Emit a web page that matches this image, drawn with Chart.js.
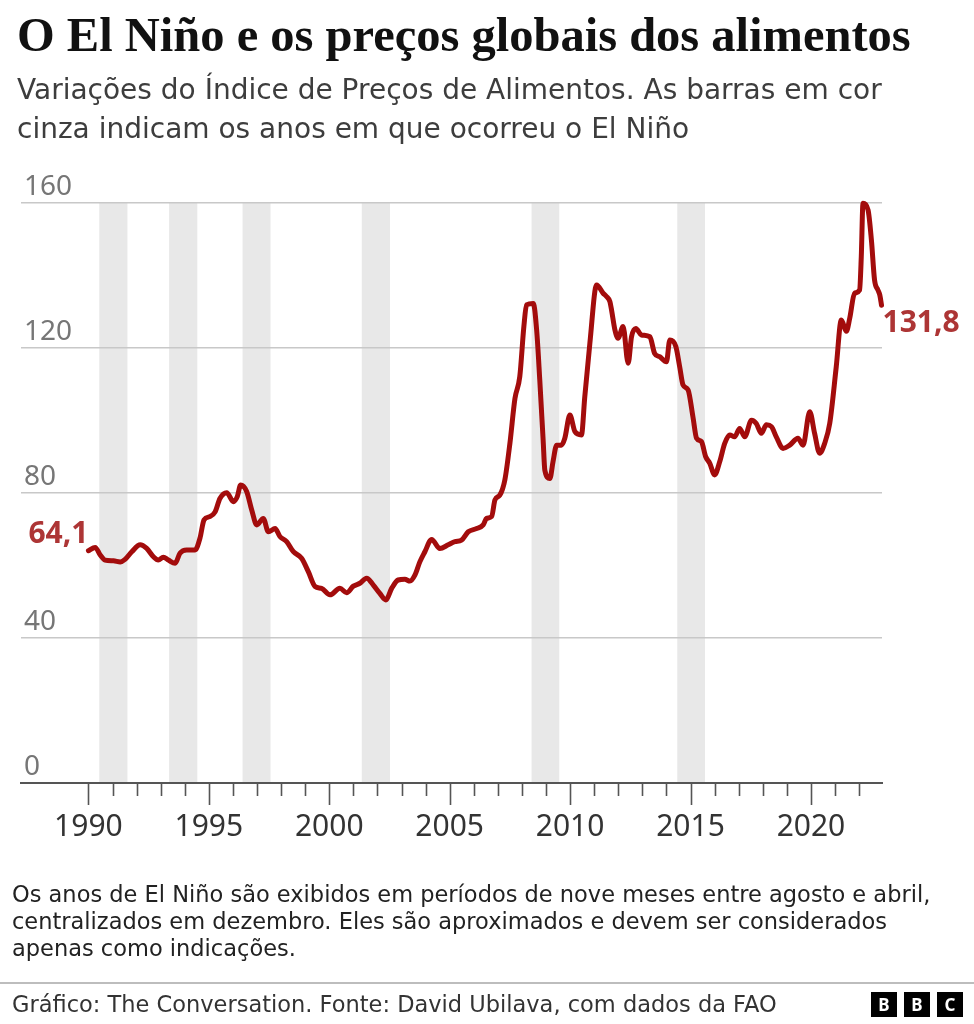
<!DOCTYPE html>
<html>
<head>
<meta charset="utf-8">
<script src="https://cdn.jsdelivr.net/npm/chart.js@4.4.0/dist/chart.umd.min.js"></script>
<style>
html, body { margin: 0; padding: 0; background: #fff; }
body { width: 974px; height: 1024px; position: relative; overflow: hidden; font-family: 'DejaVu Sans', sans-serif; }
#wrap { position: absolute; left: 0; top: 0; width: 974px; height: 1024px; }
.t { position: absolute; white-space: nowrap; }
#title { left: 17px; top: 9px; font: bold 48.5px/52px 'Liberation Serif', serif; color: #111; }
#subtitle { left: 17px; top: 70px; font-size: 28px; line-height: 39px; color: #3d3d3d; }
#note { left: 12px; top: 881px; font-size: 22.5px; line-height: 27px; color: #222; }
#rule { position: absolute; left: 0; top: 982px; width: 974px; height: 2px; background: #bdbdbd; }
#source { left: 12px; top: 991px; font-size: 22.5px; line-height: 27px; color: #333; }
#bbc { position: absolute; left: 871px; top: 992px; }
#bbc span { display: inline-block; width: 26px; height: 25px; margin-right: 7px; background: #000; color: #fff; font: bold 17px/25px 'Noto Sans', sans-serif; text-align: center; vertical-align: top; }
</style>
</head>
<body>
<div id="wrap"><canvas id="myChart"></canvas></div>
<div class="t" id="title">O El Niño e os preços globais dos alimentos</div>
<div class="t" id="subtitle">Variações do Índice de Preços de Alimentos. As barras em cor<br>cinza indicam os anos em que ocorreu o El Niño</div>
<div class="t" id="note">Os anos de El Niño são exibidos em períodos de nove meses entre agosto e abril,<br>centralizados em dezembro. Eles são aproximados e devem ser considerados<br>apenas como indicações.</div>
<div id="rule"></div>
<div class="t" id="source">Gráfico: The Conversation. Fonte: David Ubilava, com dados da FAO</div>
<div id="bbc"><span>B</span><span>B</span><span>C</span></div>
<script>
// FAO food price index
let years = [
    1990.00, 1990.28, 1990.49, 1990.69, 1991.04, 1991.32, 1991.52, 1991.80, 1992.15, 1992.42,
    1992.70, 1992.90, 1993.11, 1993.32, 1993.60, 1993.80, 1994.08, 1994.43, 1994.63, 1994.80,
    1995.05, 1995.26, 1995.46, 1995.74, 1996.02, 1996.18, 1996.32, 1996.57, 1996.78, 1996.99,
    1997.26, 1997.47, 1997.75, 1997.95, 1998.23, 1998.51, 1998.85, 1999.13, 1999.41, 1999.68,
    2000.03, 2000.44, 2000.72, 2001.00, 2001.27, 2001.55, 2001.83, 2002.10, 2002.35, 2002.59,
    2002.86, 2003.14, 2003.35, 2003.56, 2003.76, 2003.97, 2004.25, 2004.59, 2004.94, 2005.22,
    2005.49, 2005.77, 2006.12, 2006.39, 2006.53, 2006.74, 2006.88, 2007.08, 2007.29, 2007.50,
    2007.71, 2007.91, 2008.08, 2008.19, 2008.47, 2008.61, 2008.74, 2008.88, 2008.95, 2009.16,
    2009.29, 2009.44, 2009.64, 2009.78, 2009.99, 2010.20, 2010.47, 2010.61, 2010.82, 2011.10,
    2011.37, 2011.51, 2011.65, 2011.72, 2011.86, 2011.99, 2012.20, 2012.41, 2012.55, 2012.73,
    2012.96, 2013.31, 2013.51, 2013.72, 2014.00, 2014.14, 2014.39, 2014.55, 2014.69, 2014.90,
    2015.10, 2015.25, 2015.45, 2015.63, 2015.80, 2016.00, 2016.21, 2016.42, 2016.63, 2016.83,
    2017.04, 2017.25, 2017.53, 2017.73, 2017.94, 2018.15, 2018.36, 2018.56, 2018.84, 2019.12,
    2019.46, 2019.67, 2019.95, 2020.15, 2020.36, 2020.57, 2020.78, 2021.05, 2021.26, 2021.47,
    2021.61, 2021.81, 2022.02, 2022.09, 2022.16, 2022.37, 2022.51, 2022.64, 2022.78, 2022.86,
    2022.93
];
let foodIndex = [
    64.1, 65.0, 62.9, 61.5, 61.3, 61.0, 61.7, 63.8, 65.7, 64.7,
    62.4, 61.5, 62.3, 61.5, 60.6, 63.4, 64.3, 64.3, 67.5, 72.6,
    73.5, 74.8, 78.5, 80.1, 77.6, 79.0, 82.2, 80.4, 75.3, 71.2,
    73.0, 69.3, 70.2, 68.0, 66.6, 63.8, 62.0, 58.3, 54.2, 53.7,
    51.9, 53.7, 52.5, 54.3, 55.1, 56.5, 54.6, 52.3, 50.5, 53.7,
    56.0, 56.2, 55.7, 57.4, 61.0, 63.8, 67.2, 64.7, 65.7, 66.6,
    67.0, 69.3, 70.2, 71.2, 73.0, 73.5, 78.1, 79.4, 83.6, 93.7,
    106.1, 112.1, 125.9, 131.9, 132.3, 125.0, 111.2, 94.6, 86.3, 84.0,
    88.6, 93.2, 93.2, 95.1, 101.5, 96.9, 96.0, 106.6, 121.3, 137.4,
    135.1, 134.2, 132.8, 130.5, 125.0, 122.7, 125.9, 115.8, 123.1, 125.4,
    123.6, 123.1, 118.5, 117.6, 116.2, 122.2, 120.4, 114.8, 109.8, 108.4,
    101.0, 95.1, 94.2, 90.0, 88.2, 85.0, 88.6, 93.7, 96.0, 95.5,
    97.8, 95.5, 100.1, 99.2, 96.5, 98.8, 98.3, 95.5, 92.3, 93.2,
    95.1, 93.2, 102.4, 96.5, 91.0, 93.7, 99.2, 114.8, 127.7, 124.6,
    128.2, 135.1, 136.0, 145.2, 159.9, 158.1, 149.8, 138.8, 136.0, 134.6,
    131.8
];

// El Niño periods (grey bands)
let ninoStart = [1990.45, 1993.35, 1996.40, 2001.35, 2008.40, 2014.45];
let ninoEnd = [1991.62, 1994.52, 1997.56, 2002.52, 2009.55, 2015.60];

let yTicks = [0, 40, 80, 120, 160];
let yearLabels = [1990, 1995, 2000, 2005, 2010, 2015, 2020];

const lineRed = '#a30c0c';
const labelRed = '#ad3535';

const fmt = v => v.toFixed(1).replace('.', ',');

const ninoBands = {
    id: 'ninoBands',
    beforeDraw: (chart) => {
        const { ctx, chartArea, scales } = chart;
        ctx.save();
        ctx.fillStyle = '#e8e8e8';
        for (let i = 0; i < ninoStart.length; i++) {
            let x1 = scales.x.getPixelForValue(ninoStart[i]);
            let x2 = scales.x.getPixelForValue(ninoEnd[i]);
            ctx.fillRect(x1, chartArea.top, x2 - x1, chartArea.bottom - chartArea.top - 1);
        }
        ctx.restore();
    }
};

const yearTicks = {
    id: 'yearTicks',
    afterDraw: (chart) => {
        const { ctx, chartArea, scales } = chart;
        ctx.save();
        ctx.strokeStyle = '#555';
        ctx.lineWidth = 1.6;
        scales.x.ticks.forEach(t => {
            if (t.value < 1990) return;
            let x = Math.round(scales.x.getPixelForValue(t.value)) + 0.5;
            let len = t.value % 5 === 0 ? 22 : 13;
            ctx.beginPath();
            ctx.moveTo(x, chartArea.bottom);
            ctx.lineTo(x, chartArea.bottom + len);
            ctx.stroke();
        });
        ctx.restore();
    }
};

const endLabels = {
    id: 'endLabels',
    afterDatasetsDraw: (chart) => {
        const { ctx } = chart;
        const pts = chart.getDatasetMeta(0).data;
        const first = pts[0];
        const last = pts[pts.length - 1];
        ctx.save();
        ctx.font = 'bold 30px "Noto Sans"';
        ctx.fillStyle = labelRed;
        ctx.textBaseline = 'alphabetic';
        ctx.textAlign = 'right';
        ctx.fillText(fmt(foodIndex[0]), first.x, first.y - 8);
        ctx.textAlign = 'left';
        ctx.fillText(fmt(foodIndex[foodIndex.length - 1]), last.x + 1, last.y + 27);
        ctx.restore();
    }
};

Chart.defaults.font.family = "'Noto Sans', sans-serif";

const data = {
    datasets: [{
        label: 'Índice de Preços de Alimentos',
        data: years.map((y, i) => ({ x: y, y: foodIndex[i] })),
        borderColor: lineRed,
        borderWidth: 5,
        borderJoinStyle: 'round',
        borderCapStyle: 'round',
        pointRadius: 0,
        cubicInterpolationMode: 'monotone',
        fill: false,
        clip: false
    }]
};

const config = {
    type: 'line',
    data: data,
    options: {
        responsive: true,
        maintainAspectRatio: false,
        animation: false,
        layout: { padding: { top: 203, left: 21, right: 92, bottom: 181 } },
        plugins: {
            legend: { display: false },
            tooltip: { enabled: false }
        },
        scales: {
            x: {
                type: 'linear',
                min: 1987.2,
                max: 2022.95,
                afterFit: (scale) => { scale.height = 60; },
                grid: { display: false },
                border: { display: true, color: '#555', width: 2 },
                ticks: {
                    stepSize: 1,
                    includeBounds: false,
                    autoSkip: false,
                    maxRotation: 0,
                    padding: 18,
                    color: '#333',
                    font: { size: 30 },
                    callback: (v) => yearLabels.includes(v) ? String(v) : ''
                }
            },
            y: {
                min: yTicks[0],
                max: yTicks[yTicks.length - 1],
                afterFit: (scale) => { scale.width = 0; },
                afterBuildTicks: (scale) => { scale.ticks = yTicks.map(v => ({ value: v })); },
                grid: {
                    drawTicks: false,
                    lineWidth: 1.5,
                    color: (c) => c.tick && c.tick.value === 0 ? 'rgba(0,0,0,0)' : '#c8c8c8'
                },
                border: { display: false },
                ticks: {
                    mirror: true,
                    padding: 3,
                    labelOffset: -16,
                    color: '#767676',
                    font: { size: 28 }
                }
            }
        }
    },
    plugins: [ninoBands, yearTicks, endLabels]
};

let myChart = new Chart(document.getElementById('myChart'), config);
</script>
</body>
</html>
